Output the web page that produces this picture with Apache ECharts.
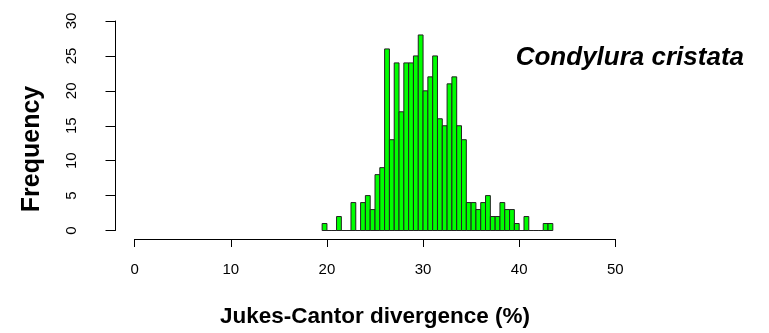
<!DOCTYPE html>
<html>
<head>
<meta charset="utf-8">
<script src="https://cdn.jsdelivr.net/npm/echarts@6/dist/echarts.min.js"></script>
<style>
html,body{margin:0;padding:0;background:#fff;}
#chart{width:769px;height:333px;}
</style>
</head>
<body>
<div id="chart"></div>
<script>
// Histogram bin edges (% Jukes-Cantor divergence)
const binEdges = [19.5,20,20.5,21,21.5,22,22.5,23,23.5,24,24.5,25,25.5,26,26.5,27,27.5,28,28.5,29,29.5,30,30.5,31,31.5,32,32.5,33,33.5,34,34.5,35,35.5,36,36.5,37,37.5,38,38.5,39,39.5,40,40.5,41,41.5,42,42.5,43,43.5];
// Frequency per bin
const counts = [1,0,0,2,0,0,4,0,4,5,3,8,9,26,13,24,17,24,24,25,28,20,22,25,16,15,21,22,15,13,4,4,3,4,5,2,2,4,3,3,1,0,2,0,0,0,1,1];
const xTicks = [0,10,20,30,40,50];
const yTicks = [0,5,10,15,20,25,30];
const speciesLabel = 'Condylura cristata';
const xTitle = 'Jukes-Cantor divergence (%)';
const yTitle = 'Frequency';

const data = counts.map((c, i) => [binEdges[i], binEdges[i + 1], c]);
const FONT = '"Liberation Sans", Arial, Helvetica, sans-serif';

const chart = echarts.init(document.getElementById('chart'), null, {renderer: 'canvas'});
chart.setOption({
  animation: false,
  backgroundColor: '#ffffff',
  title: {
    text: speciesLabel,
    right: 20,
    top: 40,
    textStyle: {fontFamily: FONT, fontSize: 26, fontWeight: 'bold', fontStyle: 'italic', color: '#000'}
  },
  graphic: [{
    type: 'text',
    x: 32, y: 149,
    rotation: Math.PI / 2,
    style: {
      text: yTitle, fontFamily: FONT, fontSize: 25, fontWeight: 'bold', fill: '#000',
      align: 'center', verticalAlign: 'middle'
    }
  }],
  grid: {left: 134.7, right: 153.7, top: 21, bottom: 100, containLabel: false},
  xAxis: {
    type: 'value',
    min: xTicks[0], max: xTicks[xTicks.length - 1], interval: 10,
    offset: 8.5,
    name: xTitle,
    nameLocation: 'middle',
    nameGap: 66,
    nameTextStyle: {fontFamily: FONT, fontSize: 22.5, fontWeight: 'bold', color: '#000'},
    axisLine: {show: true, onZero: false, lineStyle: {color: '#000', width: 1}},
    axisTick: {show: true, inside: false, length: 8, lineStyle: {color: '#000'}},
    axisLabel: {margin: 23, fontFamily: FONT, fontSize: 15, color: '#000'},
    splitLine: {show: false}
  },
  yAxis: {
    type: 'value',
    min: yTicks[0], max: yTicks[yTicks.length - 1], interval: 5,
    offset: 19.2,
    axisLine: {show: true, onZero: false, lineStyle: {color: '#000', width: 1}},
    axisTick: {show: true, inside: false, length: 10, lineStyle: {color: '#000'}},
    axisLabel: {rotate: 90, margin: 36, fontFamily: FONT, fontSize: 15, color: '#000'},
    splitLine: {show: false}
  },
  series: [{
    type: 'custom',
    data: data,
    encode: {x: [0, 1], y: 2},
    renderItem: function (params, api) {
      const x0 = api.value(0), x1 = api.value(1), y = api.value(2);
      const pTop = api.coord([x0, y]);
      const pBot = api.coord([x1, 0]);
      return {
        type: 'rect',
        shape: {x: pTop[0], y: pTop[1], width: pBot[0] - pTop[0], height: pBot[1] - pTop[1]},
        style: {fill: '#00ff00', stroke: '#222', lineWidth: 1}
      };
    }
  }]
});
</script>
</body>
</html>
